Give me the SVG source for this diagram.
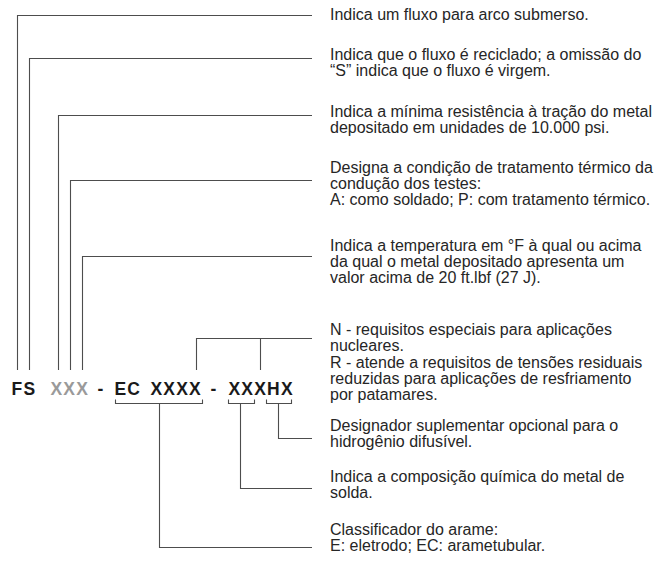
<svg xmlns="http://www.w3.org/2000/svg" width="671" height="567" viewBox="0 0 671 567">
  <style>
    .code { font-family: "Liberation Sans", Arial, sans-serif; font-size: 17.5px; font-weight: bold; fill: #1a1a1a; letter-spacing: 1.2px; }
    .code.muted { fill: #9a9a9a; }
    .note { font-family: "Liberation Sans", Arial, sans-serif; font-size: 16px; fill: #262626; }
    .wire { fill: none; stroke: #4d4d4d; stroke-width: 1.1; }
  </style>
  <rect width="671" height="567" fill="#ffffff"/>

  <!-- designation string -->
  <g id="designation">
    <text class="code" x="11.5" y="394.5">FS</text>
    <text class="code muted" x="50.5" y="394.5">XXX</text>
    <text class="code" x="97.5" y="394.5">-</text>
    <text class="code" x="114.5" y="394.5">EC</text>
    <text class="code" x="150.5" y="394.5">XXXX</text>
    <text class="code" x="210.5" y="394.5">-</text>
    <text class="code" x="228.5" y="394.5">XXXHX</text>
  </g>

  <!-- leader lines -->
  <g id="connectors" class="wire">
    <polyline points="17.5,370 17.5,15.5 312,15.5"/>
    <polyline points="29.5,370 29.5,58.5 312,58.5"/>
    <polyline points="58.5,370 58.5,115.5 312,115.5"/>
    <polyline points="70.5,370 70.5,180.5 312,180.5"/>
    <polyline points="82.5,370 82.5,256.5 312,256.5"/>
    <polyline points="196.5,370 196.5,338.5 312,338.5"/>
    <line x1="260.5" y1="338.5" x2="260.5" y2="370"/>
    <!-- brackets under the code groups -->
    <polyline points="115.5,399.5 115.5,403.5 202.5,403.5 202.5,399.5"/>
    <polyline points="159.5,403.5 159.5,547.5 312,547.5"/>
    <polyline points="228.5,399.5 228.5,403.5 254.5,403.5 254.5,399.5"/>
    <polyline points="240.5,403.5 240.5,488.5 312,488.5"/>
    <polyline points="266.5,399.5 266.5,403.5 291.5,403.5 291.5,399.5"/>
    <polyline points="278.5,403.5 278.5,438.5 312,438.5"/>
  </g>

  <g id="note-flux">
    <text class="note" x="330" y="20">Indica um fluxo para arco submerso.</text>
  </g>
  <g id="note-recycled">
    <text class="note" x="330" y="59.5">Indica que o fluxo é reciclado; a omissão do</text>
    <text class="note" x="330" y="75.8">“S” indica que o fluxo é virgem.</text>
  </g>
  <g id="note-tensile">
    <text class="note" x="330" y="116.5">Indica a mínima resistência à tração do metal</text>
    <text class="note" x="330" y="132.8">depositado em unidades de 10.000 psi.</text>
  </g>
  <g id="note-heat-treatment">
    <text class="note" x="330" y="172.5">Designa a condição de tratamento térmico da</text>
    <text class="note" x="330" y="188.8">condução dos testes:</text>
    <text class="note" x="330" y="205.1">A: como soldado; P: com tratamento térmico.</text>
  </g>
  <g id="note-temperature">
    <text class="note" x="330" y="250.5">Indica a temperatura em °F à qual ou acima</text>
    <text class="note" x="330" y="266.8">da qual o metal depositado apresenta um</text>
    <text class="note" x="330" y="283.1">valor acima de 20 ft.lbf (27 J).</text>
  </g>
  <g id="note-special">
    <text class="note" x="330" y="335">N - requisitos especiais para aplicações</text>
    <text class="note" x="330" y="351.3">nucleares.</text>
    <text class="note" x="330" y="367.6">R - atende a requisitos de tensões residuais</text>
    <text class="note" x="330" y="383.9">reduzidas para aplicações de resfriamento</text>
    <text class="note" x="330" y="400.2">por patamares.</text>
  </g>
  <g id="note-hydrogen">
    <text class="note" x="330" y="431">Designador suplementar opcional para o</text>
    <text class="note" x="330" y="447.3">hidrogênio difusível.</text>
  </g>
  <g id="note-composition">
    <text class="note" x="330" y="482">Indica a composição química do metal de</text>
    <text class="note" x="330" y="498.3">solda.</text>
  </g>
  <g id="note-wire">
    <text class="note" x="330" y="535">Classificador do arame:</text>
    <text class="note" x="330" y="551.3">E: eletrodo; EC: arametubular.</text>
  </g>
</svg>
